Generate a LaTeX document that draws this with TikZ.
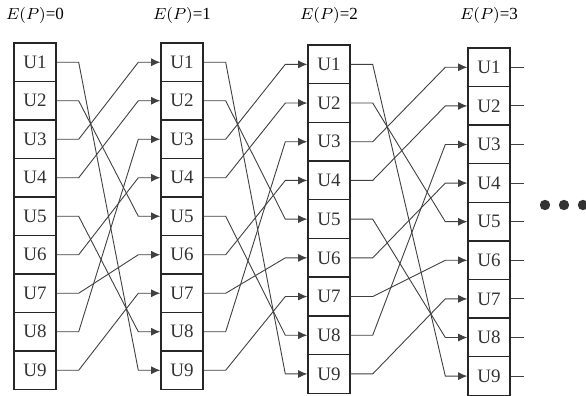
\documentclass[tikz,border=0pt]{standalone}
\usepackage{fontspec}
\setmainfont{Liberation Serif}
\usetikzlibrary{arrows.meta,calc}
\tikzset{
  cell/.style={rectangle, draw=black!85, line width=0.7pt, minimum width=21pt,
    inner sep=0pt, font=\fontsize{9.5}{10}\selectfont, text=black!80},
  stage/.style={font=\fontsize{8.5}{9}\selectfont, inner sep=0pt},
  link/.style={-{Latex[length=4.6pt,width=4pt]}, draw=black!75, line width=0.45pt},
  stub/.style={draw=black!75, line width=0.5pt},
  dot/.style={fill=black!80},
}

\begin{document}
\begin{tikzpicture}[x=0.5pt,y=-0.5pt]
\useasboundingbox (0,0) rectangle (586,396);
% columns: index / centre x / top y / row height
\foreach \c/\cx/\top/\h in {0/35/43/38.5, 1/182/43/38.5, 2/329/45/38.7, 3/489/48/38.6} {
  \node[stage] (lab\c) at (\cx,15) {$E(P)$=\c};
  \foreach \r in {1,...,9}
    \node[cell, minimum height=\h*0.5pt] (c\c-\r) at (\cx,{\top+(\r-0.5)*\h}) {U\r};
}
% the same exchange between each pair of columns
\foreach \a/\b in {0/1,1/2,2/3}
  \foreach \s/\t in {1/9,2/5,3/1,4/2,5/8,6/4,7/6,8/3,9/7}
    \draw[link] (c\a-\s.east) -- ++(11pt,0) -- ([xshift=-11pt]c\b-\t.west) -- (c\b-\t.west);
% loose ends on the last column
\foreach \r in {1,...,9}
  \draw[stub] (c3-\r.east) -- ++(6.5pt,0);
\fill[dot] (545,205) circle (2.6pt) (564,205) circle (2.6pt) (583,205) circle (2.6pt);
\end{tikzpicture}
\end{document}
